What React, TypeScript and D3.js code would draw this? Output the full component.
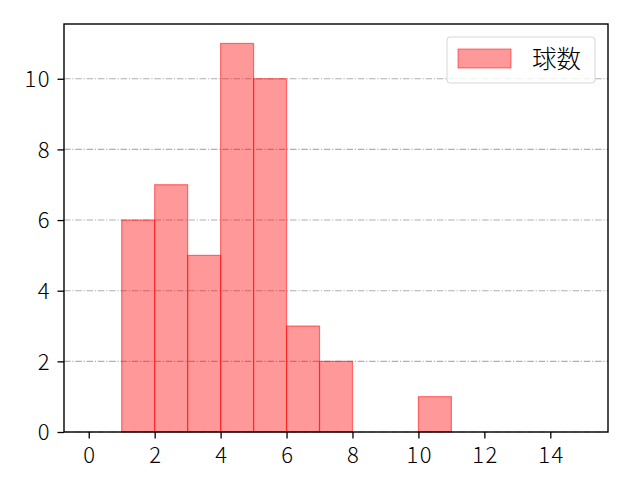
import { useEffect, useRef } from "react";
import * as d3 from "d3";

// histogram bins (start of bin) and counts
const binStarts = [1, 2, 3, 4, 5, 6, 7, 10];
const counts = [6, 7, 5, 11, 10, 3, 2, 1];
const binWidth = 1;
const xTicks = [0, 2, 4, 6, 8, 10, 12, 14];
const yTicks = [0, 2, 4, 6, 8, 10];
const seriesName = "球数";

const App = () => {
  const ref = useRef<SVGSVGElement | null>(null);

  useEffect(() => {
    if (!ref.current) return;
    const width = 640;
    const height = 480;
    const m = { left: 64, right: 32, top: 24, bottom: 48 };
    const font = "'Noto Sans CJK JP', 'DejaVu Sans', sans-serif";
    const fs = 22;

    const svg = d3.select(ref.current);
    svg.selectAll("*").remove();
    svg.attr("width", width).attr("height", height);

    const x = d3
      .scaleLinear()
      .domain([-0.75, 15.75])
      .range([m.left, width - m.right]);
    const y = d3
      .scaleLinear()
      .domain([0, 11.55])
      .range([height - m.bottom, m.top]);

    svg.append("rect").attr("width", width).attr("height", height).attr("fill", "#fff");

    // grid
    svg
      .append("g")
      .selectAll("line")
      .data(yTicks)
      .join("line")
      .attr("x1", m.left)
      .attr("x2", width - m.right)
      .attr("y1", (d) => y(d))
      .attr("y2", (d) => y(d))
      .attr("stroke", "#b0b0b0")
      .attr("stroke-width", 1.1)
      .attr("stroke-dasharray", "6.5,1.8,1.2,1.8");

    const data = binStarts.map((s, i) => ({ s, v: counts[i] }));
    svg
      .append("g")
      .selectAll("rect")
      .data(data)
      .join("rect")
      .attr("x", (d) => x(d.s))
      .attr("width", (d) => x(d.s + binWidth) - x(d.s))
      .attr("y", (d) => y(d.v))
      .attr("height", (d) => y(0) - y(d.v))
      .attr("fill", "rgba(255,0,0,0.4)")
      .attr("stroke", "rgba(255,0,0,0.5)")
      .attr("stroke-width", 1.2);

    // frame
    svg
      .append("rect")
      .attr("x", m.left)
      .attr("y", m.top)
      .attr("width", width - m.left - m.right)
      .attr("height", height - m.top - m.bottom)
      .attr("fill", "none")
      .attr("stroke", "#000")
      .attr("stroke-width", 1.4);

    const xAxis = svg
      .append("g")
      .attr("transform", `translate(0,${height - m.bottom})`)
      .call(d3.axisBottom(x).tickValues(xTicks).tickSize(6.5).tickFormat(d3.format("d")));
    const yAxis = svg
      .append("g")
      .attr("transform", `translate(${m.left},0)`)
      .call(d3.axisLeft(y).tickValues(yTicks).tickSize(6.5).tickFormat(d3.format("d")));
    [xAxis, yAxis].forEach((g) => {
      g.select(".domain").remove();
      g.selectAll("line").attr("stroke", "#000").attr("stroke-width", 1.3);
      g.selectAll("text")
        .attr("font-family", font)
        .attr("font-size", fs)
        .attr("font-weight", 300)
        .attr("letter-spacing", 1.5)
        .attr("fill", "#000");
    });
    xAxis.selectAll("text").attr("y", 31).attr("dy", null).attr("dx", 0.75);
    yAxis.selectAll("text").attr("x", -13).attr("dy", "0.36em");

    // legend
    const lg = svg.append("g");
    lg.append("rect")
      .attr("x", 447)
      .attr("y", 37)
      .attr("width", 148)
      .attr("height", 46)
      .attr("rx", 3)
      .attr("fill", "rgba(255,255,255,0.8)")
      .attr("stroke", "#d6d6d6")
      .attr("stroke-width", 1);
    lg.append("rect")
      .attr("x", 458)
      .attr("y", 49)
      .attr("width", 53)
      .attr("height", 19)
      .attr("fill", "rgba(255,0,0,0.4)")
      .attr("stroke", "rgba(255,0,0,0.5)");
    lg.append("text")
      .attr("x", 532)
      .attr("y", 68)
      .attr("font-family", font)
      .attr("font-size", 24.5)
      .attr("font-weight", 300)
      .text(seriesName);
  }, []);

  return <svg ref={ref} style={{ display: "block", margin: -8 }}></svg>;
};

export default App;
